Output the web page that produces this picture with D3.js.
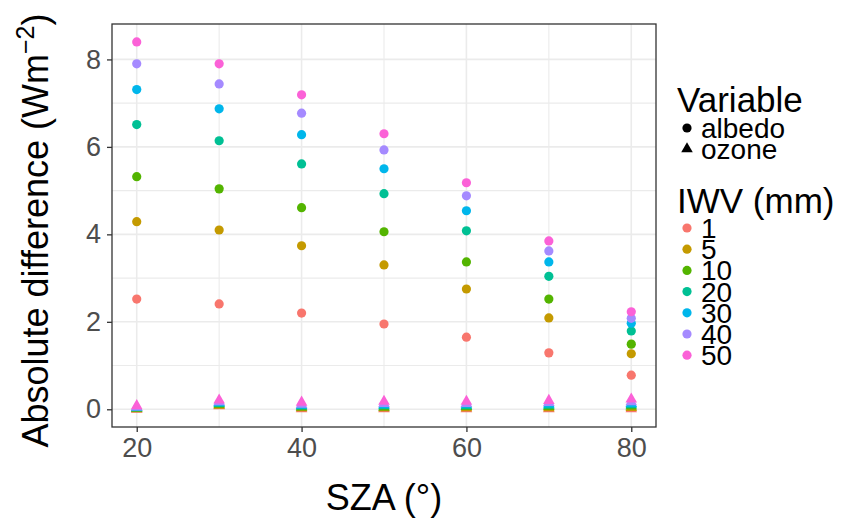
<!DOCTYPE html>
<html>
<head>
<meta charset="utf-8">
<script src="https://cdn.jsdelivr.net/npm/d3@7"></script>
<style>
  body { margin: 0; background: #fff; }
  svg { font-family: "Liberation Sans", Arial, sans-serif; }
</style>
</head>
<body>
<div class="chart"></div>
<script>
// solar zenith angles and IWV levels
const sza = [20, 30, 40, 50, 60, 70, 80];
const iwvLevels = ['1', '5', '10', '20', '30', '40', '50'];
const iwvColors = ['#F8766D', '#C49A00', '#53B400', '#00C094', '#00B6EB', '#A58AFF', '#FB61D7'];

// albedo differences, one array per IWV
const albedo1 = [2.52, 2.41, 2.20, 1.95, 1.65, 1.29, 0.78];
const albedo5 = [4.29, 4.10, 3.74, 3.30, 2.75, 2.09, 1.27];
const albedo10 = [5.32, 5.04, 4.61, 4.06, 3.37, 2.52, 1.49];
const albedo20 = [6.51, 6.14, 5.61, 4.93, 4.08, 3.04, 1.79];
const albedo30 = [7.31, 6.87, 6.28, 5.50, 4.54, 3.37, 1.97];
const albedo40 = [7.90, 7.44, 6.77, 5.93, 4.88, 3.62, 2.08];
const albedo50 = [8.40, 7.90, 7.19, 6.30, 5.18, 3.85, 2.23];

// ozone differences, one array per IWV
const ozone1 = [0.00, 0.08, 0.01, 0.01, 0.01, 0.01, 0.01];
const ozone5 = [0.01, 0.09, 0.03, 0.03, 0.03, 0.03, 0.04];
const ozone10 = [0.02, 0.11, 0.05, 0.05, 0.06, 0.06, 0.07];
const ozone20 = [0.03, 0.13, 0.07, 0.08, 0.08, 0.09, 0.10];
const ozone30 = [0.04, 0.15, 0.09, 0.10, 0.11, 0.12, 0.13];
const ozone40 = [0.05, 0.17, 0.11, 0.13, 0.13, 0.15, 0.17];
const ozone50 = [0.08, 0.21, 0.16, 0.18, 0.18, 0.20, 0.23];

const xTicks = [20, 40, 60, 80];
const yTicks = [0, 2, 4, 6, 8];

const albedoSeries = [albedo1, albedo5, albedo10, albedo20, albedo30, albedo40, albedo50];
const ozoneSeries = [ozone1, ozone5, ozone10, ozone20, ozone30, ozone40, ozone50];

const rows = [];
albedoSeries.forEach((vals, i) => vals.forEach((v, j) => rows.push({ sza: sza[j], iwv: iwvLevels[i], variable: 'albedo', value: v })));
ozoneSeries.forEach((vals, i) => vals.forEach((v, j) => rows.push({ sza: sza[j], iwv: iwvLevels[i], variable: 'ozone', value: v })));

const width = 843, height = 523;
const panel = { left: 112, right: 656, top: 24, bottom: 427 };

const svg = d3.select('.chart').append('svg')
    .attr('width', width)
    .attr('height', height);

const xScale = d3.scaleLinear().domain([17, 83]).range([panel.left, panel.right]);
const yScale = d3.scaleLinear().domain([-0.405, 8.81]).range([panel.bottom, panel.top]);
const color = d3.scaleOrdinal().domain(iwvLevels).range(iwvColors);

// grid
const grid = svg.append('g');
[1, 3, 5, 7].forEach(v => grid.append('line')
    .attr('x1', panel.left).attr('x2', panel.right)
    .attr('y1', yScale(v)).attr('y2', yScale(v))
    .attr('stroke', '#ebebeb').attr('stroke-width', 1.1));
[30, 50, 70].forEach(v => grid.append('line')
    .attr('y1', panel.top).attr('y2', panel.bottom)
    .attr('x1', xScale(v)).attr('x2', xScale(v))
    .attr('stroke', '#ebebeb').attr('stroke-width', 1.1));
yTicks.forEach(v => grid.append('line')
    .attr('x1', panel.left).attr('x2', panel.right)
    .attr('y1', yScale(v)).attr('y2', yScale(v))
    .attr('stroke', '#ebebeb').attr('stroke-width', 1.6));
xTicks.forEach(v => grid.append('line')
    .attr('y1', panel.top).attr('y2', panel.bottom)
    .attr('x1', xScale(v)).attr('x2', xScale(v))
    .attr('stroke', '#ebebeb').attr('stroke-width', 1.6));

// points
const triangle = d3.symbol().type(d3.symbolTriangle).size(58);
const pts = svg.append('g');
rows.forEach(d => {
    if (d.variable === 'albedo') {
        pts.append('circle')
            .attr('cx', xScale(d.sza)).attr('cy', yScale(d.value))
            .attr('r', 4.6).attr('fill', color(d.iwv));
    } else {
        pts.append('path')
            .attr('d', triangle)
            .attr('transform', `translate(${xScale(d.sza)},${yScale(d.value)})`)
            .attr('fill', color(d.iwv));
    }
});

// panel border
svg.append('rect')
    .attr('x', panel.left).attr('y', panel.top)
    .attr('width', panel.right - panel.left).attr('height', panel.bottom - panel.top)
    .attr('fill', 'none').attr('stroke', '#333').attr('stroke-width', 1.3);

// axes
const xAxis = svg.append('g')
    .attr('transform', `translate(0, ${panel.bottom})`)
    .call(d3.axisBottom(xScale).tickValues(xTicks).tickSize(5).tickPadding(6));
const yAxis = svg.append('g')
    .attr('transform', `translate(${panel.left}, 0)`)
    .call(d3.axisLeft(yScale).tickValues(yTicks).tickSize(5).tickPadding(6));
[xAxis, yAxis].forEach(a => {
    a.select('.domain').remove();
    a.selectAll('.tick line').attr('stroke', '#333').attr('stroke-width', 1.3);
    a.selectAll('.tick text').attr('fill', '#4d4d4d').attr('font-size', 27)
        .attr('font-family', '"Liberation Sans", Arial, sans-serif');
});

// axis titles
svg.append('text')
    .attr('x', (panel.left + panel.right) / 2).attr('y', 510)
    .attr('text-anchor', 'middle').attr('font-size', 36)
    .text('SZA (°)');

const yTitle = svg.append('text')
    .attr('transform', `translate(48, ${(panel.top + panel.bottom) / 2 + 5}) rotate(-90)`)
    .attr('text-anchor', 'middle').attr('font-size', 36);
yTitle.append('tspan').text('Absolute difference (Wm');
yTitle.append('tspan').attr('dy', -14).attr('font-size', 25).text('−2');
yTitle.append('tspan').attr('dy', 14).text(')');

// legends
const legend = svg.append('g');
legend.append('text').attr('x', 677).attr('y', 112).attr('font-size', 35).text('Variable');
const varKeys = [{ label: 'albedo', y: 128 }, { label: 'ozone', y: 149 }];
varKeys.forEach((k, i) => {
    if (i === 0) {
        legend.append('circle').attr('cx', 687).attr('cy', k.y).attr('r', 4.6).attr('fill', '#000');
    } else {
        legend.append('path').attr('d', triangle)
            .attr('transform', `translate(687,${k.y})`).attr('fill', '#000');
    }
    legend.append('text').attr('x', 701).attr('y', k.y + 10).attr('font-size', 28).text(k.label);
});

legend.append('text').attr('x', 677).attr('y', 213).attr('font-size', 35).text('IWV (mm)');
iwvLevels.forEach((lv, i) => {
    const y = 228 + i * 21.2;
    legend.append('circle').attr('cx', 687).attr('cy', y).attr('r', 4.6).attr('fill', color(lv));
    legend.append('text').attr('x', 701).attr('y', y + 10).attr('font-size', 28).text(lv);
});
</script>
</body>
</html>
